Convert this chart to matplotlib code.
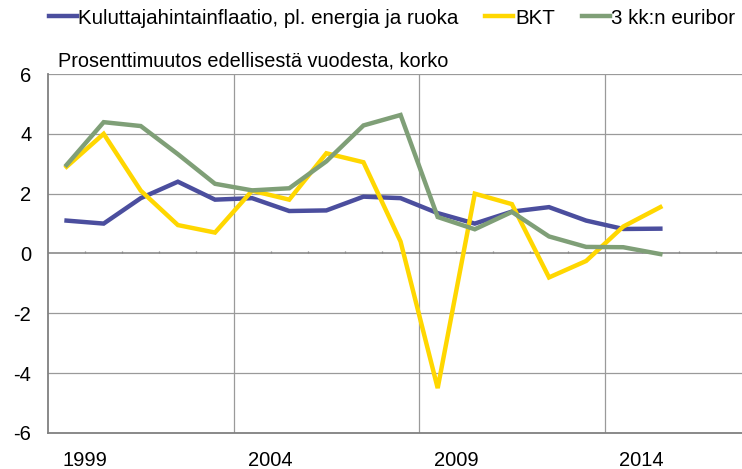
import numpy as np
import matplotlib.pyplot as plt

plt.rcParams['font.family'] = ['Liberation Sans', 'DejaVu Sans']

years = list(range(1999, 2016))
inflaatio = [1.1, 1.0, 1.85, 2.4, 1.8, 1.85, 1.42, 1.44, 1.9, 1.85, 1.35, 1.0, 1.4, 1.55, 1.1, 0.82, 0.83]
bkt = [2.9, 4.0, 2.1, 0.95, 0.7, 2.1, 1.8, 3.35, 3.05, 0.4, -4.5, 2.0, 1.65, -0.8, -0.25, 0.9, 1.55]
euribor = [2.96, 4.39, 4.26, 3.32, 2.33, 2.11, 2.18, 3.08, 4.28, 4.63, 1.22, 0.81, 1.39, 0.57, 0.22, 0.21, -0.02]
labels = ['Kuluttajahintainflaatio, pl. energia ja ruoka', 'BKT', '3 kk:n euribor']
colors = ['#4B4E9E', '#FFD700', '#7F9F77']

fig = plt.figure(figsize=(7.42, 4.69), dpi=100)
ax = fig.add_axes([48/742, 1 - 433/469, 1 - 48/742, (433 - 74)/469])

x = np.arange(len(years))
for vals, lab, c in zip([inflaatio, bkt, euribor], labels, colors):
    ax.plot(x, vals, color=c, lw=3.2, label=lab, solid_joinstyle='miter')

ax.set_xlim(-0.5, 18.2)
ax.set_ylim(-6, 6)

# gridlines
for yv in [-4, -2, 2, 4, 6]:
    ax.axhline(yv, color='#9a9a9a', lw=0.9, zorder=0)
for xv in [4.5, 9.5, 14.5]:
    ax.axvline(xv, color='#9a9a9a', lw=0.9, zorder=0)
ax.axhline(0, color='#8a8a8a', lw=1.2, zorder=0)
ax.vlines(np.arange(0.5, 19, 1), 0, 0.1, color='#8a8a8a', lw=0.9, zorder=0)

for side in ['top', 'right']:
    ax.spines[side].set_visible(False)
for side in ['left', 'bottom']:
    ax.spines[side].set_color('#808080')
    ax.spines[side].set_linewidth(1.3)

ax.set_yticks([-6, -4, -2, 0, 2, 4, 6])
ax.set_yticklabels(['-6', '-4', '-2', '0', '2', '4', '6'])
ax.set_xticks([0.5, 5.5, 10.5, 15.5])
ax.set_xticklabels(['1999', '2004', '2009', '2014'])
ax.tick_params(axis='y', length=0, pad=12, labelsize=14.5)
ax.tick_params(axis='x', length=0, pad=13, labelsize=14.5)

fig.text(58/742, 1 - 61/469, 'Prosenttimuutos edellisestä vuodesta, korko',
         fontsize=14.3, va='center', ha='left')

fig.legend(loc='center', bbox_to_anchor=(392/742, 1 - 18/469), ncol=3, frameon=False,
           fontsize=14.8, handlelength=1.36, handletextpad=0.08, columnspacing=1.3)

fig.savefig('out.png', dpi=100)
